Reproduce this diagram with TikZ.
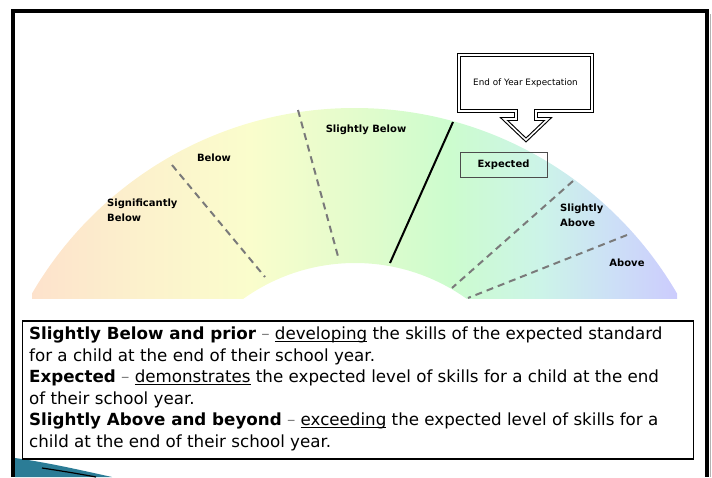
\documentclass[tikz,border=0pt]{standalone}
\usepackage{fontspec}
\setmainfont{DejaVu Sans}

\definecolor{arcorange}{HTML}{FDE2CC}
\definecolor{arcpeach}{HTML}{FCF1CC}
\definecolor{arcyellow}{HTML}{FAFDCC}
\definecolor{arclime}{HTML}{E2FCCC}
\definecolor{arcgreen}{HTML}{CCFCCE}
\definecolor{arccyan}{HTML}{CCF4E8}
\definecolor{arcblue}{HTML}{CCE0F6}
\definecolor{arclilac}{HTML}{CCCCFD}
\definecolor{swoosh}{HTML}{2B7C96}
\definecolor{dashgray}{HTML}{7A7A7A}

\pgfdeclarehorizontalshading{rainbow}{100bp}{color(0bp)=(arcorange); color(25bp)=(arcorange); color(33.4bp)=(arcpeach); color(41.9bp)=(arcyellow); color(50.4bp)=(arclime); color(57.4bp)=(arcgreen); color(64.4bp)=(arccyan); color(69.8bp)=(arcblue); color(75bp)=(arclilac); color(100bp)=(arclilac)}

\newcommand\keyul[1]{\setbox0\hbox{#1}\rlap{\rule[-2.2pt]{\wd0}{0.7pt}}\box0\relax}

\tikzset{
  divider/.style={draw=dashgray, line width=2pt, dash pattern=on 7pt off 5pt},
  bandlabel/.style={font=\bfseries\fontsize{10}{15}\selectfont, inner sep=0pt, align=left},
}

\begin{document}
\begin{tikzpicture}[x=1pt,y=-1pt]
        \useasboundingbox (0,0) rectangle (712,477);
        % slide frame
        \draw[line width=4pt] (13,477)--(13,11)--(707,11)--(707,477);
        \draw[gray!60, line width=1pt] (710,14)--(710,477);
        \fill[swoosh] (15,458)..controls (50,463) and (80,470).. (112,477)--(15,477)--cycle;
        \draw[line width=1.2pt] (42,468)..controls (62,471) and (80,474).. (96,477);

        % the rainbow arc
        \begin{scope}[even odd rule]
        \clip (0,0) rectangle (712,298);
        \clip (354.5,481) circle[radius=373pt] (355,455) circle[radius=192pt];
        \shade[shading=rainbow] (32,100) rectangle (677,298);
        \end{scope}
        \draw[divider] (172,165)--(265,277);
        \draw[divider] (298,110)--(339,260);
        \draw[line width=2pt] (453,122)--(390,263);
        \draw[divider] (573,181)--(452,288);
        \draw[divider] (627,235)--(468,298);

        \node[bandlabel, anchor=west] (sigbelow) at (107,210) {Significantly\\Below};
        \node[bandlabel] (below) at (214,158) {Below};
        \node[bandlabel] (slbelow) at (366,130) {Slightly Below};
        \node[bandlabel, draw=black!70, thin, minimum width=87pt, minimum height=25pt] (expected) at (503.5,164.5) {Expected};
        \node[bandlabel, anchor=west] (slabove) at (560,215) {Slightly\\Above};
        \node[bandlabel] (above) at (627,263) {Above};

        % callout
        \draw[line width=1.1pt, double=white, double distance=1.6pt] (459,55)--(592,55)--(592,111)--(536,111)--(536,119)--(548,119)--(526,140)--(504,119)--(516,119)--(516,111)--(459,111)--cycle;
        \node[font=\fontsize{8.8}{10}\selectfont] (callout) at (525.5,83) {End of Year Expectation};

        % key
        \node[draw, line width=1.5pt, minimum width=671pt, minimum height=138pt, anchor=north west, inner sep=0pt] (keybox) at (21.5,320) {};
        \node[anchor=north west, inner sep=0pt, align=left, font=\fontsize{16.7}{21.5}\selectfont] (keytext) at (29,327)
          {\textbf{Slightly Below and prior} \textcolor{gray}{–} \keyul{developing} the skills of the expected standard\\
           for a child at the end of their school year.\\
           \textbf{Expected} \textcolor{gray}{–} \keyul{demonstrates} the expected level of skills for a child at the end\\
           of their school year.\\
           \textbf{Slightly Above and beyond} \textcolor{gray}{–} \keyul{exceeding} the expected level of skills for a\\
           child at the end of their school year.};
\end{tikzpicture}
\end{document}
